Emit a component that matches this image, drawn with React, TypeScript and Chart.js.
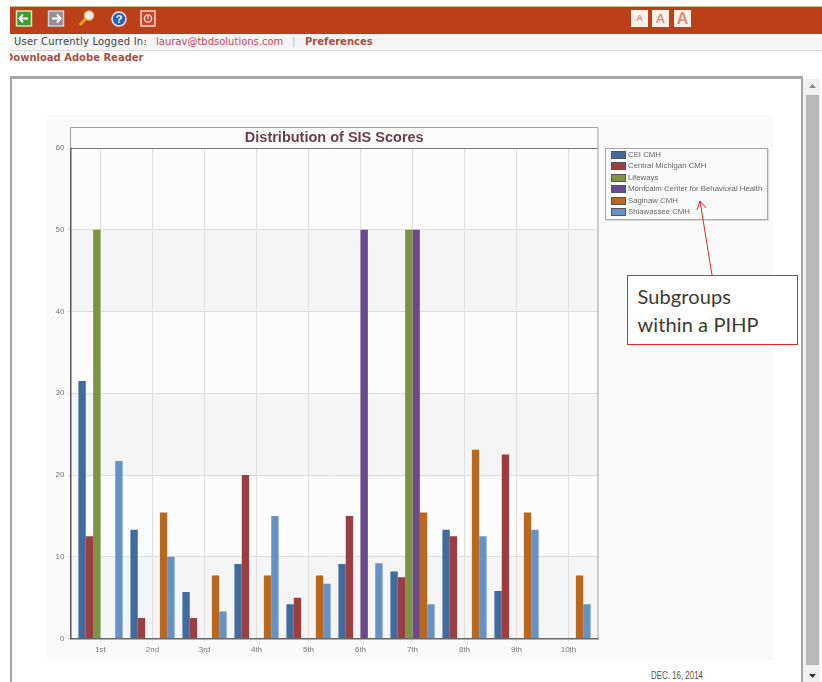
import React, { useEffect, useRef } from "react";
import { Chart, registerables } from "chart.js";

Chart.register(...registerables);

const chartTitle = "Distribution of SIS Scores";
const categories = ["1st", "2nd", "3rd", "4th", "5th", "6th", "7th", "8th", "9th", "10th"];
const seriesNames = ["CEI CMH", "Central Michigan CMH", "Lifeways", "Montcalm Center for Behavioral Health", "Saginaw CMH", "Shiawassee CMH"];
const seriesColors = ["#3f6b9e", "#9c3d3f", "#7d9345", "#6a4a8c", "#b9691f", "#6593c6"];
const cei = [31.5, 13.3, 5.7, 9.1, 4.2, 9.1, 8.2, 13.3, 5.8, 0];
const centralMichigan = [12.5, 2.5, 2.5, 20, 5, 15, 7.5, 12.5, 22.5, 0];
const lifeways = [50, 0, 0, 0, 0, 0, 50, 0, 0, 0];
const montcalm = [0, 0, 0, 0, 0, 50, 50, 0, 0, 0];
const saginaw = [0, 15.4, 7.7, 7.7, 7.7, 0, 15.4, 23.1, 15.4, 7.7];
const shiawassee = [21.7, 10, 3.3, 15, 6.7, 9.2, 4.2, 12.5, 13.3, 4.2];
const seriesValues = [cei, centralMichigan, lifeways, montcalm, saginaw, shiawassee];
const bandEdges = [0, 10, 20, 30, 40, 50, 60];

// The source chart leaves a fixed margin before the first and after the last category.
const categoryStep = 52;
const categoryEdge = 30;

const categoryInsetPlugin = {
  id: "categoryInset",
  afterLayout(chart: any) {
    const x = chart.scales.x;
    x._startValue = -categoryEdge / categoryStep;
    x._valueRange = (x.right - x.left) / categoryStep;
  },
};

const framePlugin = {
  id: "frame",
  beforeDraw(chart: any) {
    const { ctx, chartArea: a, scales } = chart;
    const y = scales.y;
    ctx.save();
    ctx.fillStyle = "#fcfcfc";
    ctx.fillRect(a.left, 12, a.right - a.left, a.bottom - 12);
    ctx.fillStyle = "#f5f5f5";
    for (let i = 0; i < bandEdges.length - 1; i += 2) {
      const top = y.getPixelForValue(bandEdges[i + 1]);
      const bottom = y.getPixelForValue(bandEdges[i]);
      ctx.fillRect(a.left, top, a.right - a.left, bottom - top);
    }
    ctx.restore();
  },
  afterDraw(chart: any) {
    const { ctx, chartArea: a } = chart;
    ctx.save();
    ctx.strokeStyle = "#a0a0a0";
    ctx.lineWidth = 1;
    ctx.beginPath();
    ctx.moveTo(a.left, Math.round(a.top) + 0.5);
    ctx.lineTo(a.left, 12.5);
    ctx.lineTo(a.right, 12.5);
    ctx.lineTo(a.right, a.bottom);
    ctx.stroke();
    ctx.strokeStyle = "#777";
    ctx.beginPath();
    ctx.moveTo(a.left, a.top + 0.5);
    ctx.lineTo(a.right, a.top + 0.5);
    ctx.stroke();
    ctx.restore();
  },
};

const abs = (left: number, top: number, width: number, height: number, extra: any = {}) => ({
  position: "absolute" as const,
  left,
  top,
  width,
  height,
  ...extra,
});

const Icons = () => (
  <svg style={abs(0, 0, 822, 40)} viewBox="0 0 822 40">
    <rect x="16.5" y="11" width="15" height="15" fill="#3d9a35" stroke="#d8e8b0" strokeWidth="1.5" />
    <path d="M28 18.5H20M23 14.5L19.5 18.5L23 22.5" stroke="#fff" strokeWidth="2" fill="none" />
    <rect x="48.5" y="11" width="15" height="15" fill="#8f9296" stroke="#d0d0d0" strokeWidth="1.5" />
    <path d="M52 18.5H60M57 14.5L60.5 18.5L57 22.5" stroke="#fff" strokeWidth="2" fill="none" />
    <circle cx="89" cy="15.5" r="4.5" fill="#e8eef2" stroke="#e8c070" strokeWidth="1.5" />
    <path d="M85.5 19L80 25" stroke="#f0a020" strokeWidth="3" />
    <circle cx="119" cy="19" r="7" fill="#2a62b8" stroke="#e8e8f0" strokeWidth="1.5" />
    <text x="119" y="23" fontSize="11" fontWeight="bold" fill="#fff" textAnchor="middle" fontFamily="Liberation Sans">?</text>
    <rect x="141" y="11" width="14" height="15" fill="#c8432a" stroke="#f2d8c8" strokeWidth="1.5" />
    <circle cx="148" cy="18.5" r="3.6" fill="none" stroke="#f6e0d0" strokeWidth="1.4" />
    <path d="M148 15V19" stroke="#f6e0d0" strokeWidth="1.4" />
  </svg>
);

const SizeButton = ({ left, size }: { left: number; size: number }) => (
  <div style={abs(left, 10, 17, 17, { background: "#fbf3e8", color: "#dc8f80", fontFamily: "Liberation Sans", fontWeight: "bold", fontSize: size, lineHeight: "17px", textAlign: "center" })}>A</div>
);

export default function App() {
  const canvasRef = useRef<HTMLCanvasElement | null>(null);

  useEffect(() => {
    const chart = new Chart(canvasRef.current as HTMLCanvasElement, {
      type: "bar",
      data: {
        labels: categories,
        datasets: seriesNames.map((name, i) => ({
          label: name,
          data: seriesValues[i],
          backgroundColor: seriesColors[i],
          borderWidth: 0,
          categoryPercentage: 0.85,
          barPercentage: 1,
        })),
      },
      options: {
        responsive: false,
        animation: false,
        events: [],
        layout: { padding: { left: 0, top: 12, right: 175, bottom: 0 } },
        plugins: {
          legend: { display: false },
          tooltip: { enabled: false },
          title: {
            display: true,
            text: chartTitle,
            fullSize: false,
            color: "#6b3f47",
            font: { family: "Liberation Sans", size: 14.5, weight: "bold", lineHeight: 1.2 },
            padding: { top: 2, bottom: 1.6 },
          },
        },
        scales: {
          x: {
            grid: { offset: false, color: "#dedede", lineWidth: 1, drawTicks: true, tickLength: 3 },
            border: { color: "#666", width: 1.5 },
            ticks: { color: "#777", font: { family: "Liberation Sans", size: 8 }, padding: 3, maxRotation: 0 },
            afterFit: (s: any) => { s.height = 21.5; },
          },
          y: {
            min: 0,
            max: 60,
            grid: { color: "#dedede", lineWidth: 1, tickLength: 3 },
            border: { color: "#555", width: 1.5 },
            ticks: { stepSize: 10, color: "#777", font: { family: "Liberation Sans", size: 8 }, padding: 3 },
            afterFit: (s: any) => { s.width = 24.5; },
          },
        },
      },
      plugins: [categoryInsetPlugin, framePlugin],
    } as any);
    return () => chart.destroy();
  }, []);

  return (
    <div style={abs(0, 0, 822, 682, { overflow: "hidden", background: "#fff", fontFamily: "DejaVu Sans", filter: "blur(0.35px)" })}>
      {/* application header */}
      <div style={abs(10, 6, 812, 1, { background: "#b9c08a" })} />
      <div style={abs(10, 7, 812, 27, { background: "#bb3f18" })} />
      <div style={abs(10, 34, 812, 16, { background: "#f5f5f5", borderBottom: "1px solid #dcdcdc" })} />
      <Icons />
      <SizeButton left={631} size={9} />
      <SizeButton left={652} size={13} />
      <SizeButton left={674} size={16} />
      <div style={abs(14, 36, 140, 12, { fontSize: 10, lineHeight: "12px", letterSpacing: 0.2, color: "#444", whiteSpace: "nowrap" })}>User Currently Logged In:</div>
      <div style={abs(156, 36, 130, 12, { fontSize: 10, lineHeight: "12px", color: "#c8465a", whiteSpace: "nowrap" })}>laurav@tbdsolutions.com</div>
      <div style={abs(292, 36, 6, 12, { fontSize: 10, lineHeight: "12px", color: "#bbb" })}>|</div>
      <div style={abs(305, 36, 80, 12, { fontSize: 10, lineHeight: "12px", fontWeight: "bold", color: "#a9503f", whiteSpace: "nowrap" })}>Preferences</div>
      <div style={abs(10, 51, 200, 13, { overflow: "hidden" })}>
        <div style={{ position: "absolute", left: -5, top: 0, fontSize: 10, lineHeight: "13px", fontWeight: "bold", color: "#a9503f", whiteSpace: "nowrap" }}>Download Adobe Reader</div>
      </div>

      {/* document panel */}
      <div style={abs(10, 76, 793, 3, { background: "#a6a6a6" })} />
      <div style={abs(10, 76, 2, 606, { background: "#a6a6a6" })} />
      <div style={abs(801, 76, 2, 606, { background: "#a6a6a6" })} />
      <div style={abs(803, 79, 17, 603, { background: "#f0f0f0" })} />
      <div style={abs(806, 95, 13, 570, { background: "#b9b9b9" })} />
      <svg style={abs(803, 79, 17, 603)} viewBox="0 0 17 603">
        <path d="M6 9L9.5 5L13 9Z" fill="#888" />
        <path d="M6 595L9.5 599L13 595Z" fill="#333" />
      </svg>

      {/* chart card */}
      <div style={abs(46, 115, 727, 545, { background: "#fafafa" })} />
      <canvas ref={canvasRef} width={727} height={545} style={abs(46, 115, 727, 545)} />

      {/* legend */}
      <div style={abs(605, 148, 161, 70, { border: "1px solid #a8a8a8", boxShadow: "1px 1px 1px #ddd", background: "#fafafa" })}>
        {seriesNames.map((name, i) => (
          <div key={name} style={abs(5, 0 + i * 11.4, 155, 11, { fontFamily: "Liberation Sans", fontSize: 7.8, lineHeight: "11px", color: "#666", whiteSpace: "nowrap" })}>
            <span style={abs(0, 2, 13, 6, { background: seriesColors[i], border: "1px solid #555" })} />
            <span style={{ position: "absolute", left: 17, top: 0 }}>{name}</span>
          </div>
        ))}
      </div>

      {/* callout */}
      <div style={abs(627, 275, 169, 68, { background: "#fff", border: "1px solid #e8262a", fontFamily: "Lato", fontSize: 20, lineHeight: "28px", color: "#3a3a32", letterSpacing: 0.1 })}>
        <div style={{ position: "absolute", left: 9.5, top: 6, whiteSpace: "nowrap" }}>Subgroups<br />within a PIHP</div>
      </div>
      <svg style={abs(680, 190, 50, 90)} viewBox="0 0 50 90">
        <path d="M32 85L20 11" stroke="#e8262a" strokeWidth="1" fill="none" />
        <path d="M17 20L20 11L26 18" stroke="#e8262a" strokeWidth="1" fill="none" />
      </svg>

      <div style={{ ...abs(651, 668, 80, 14, { fontFamily: "Liberation Sans", fontSize: 11, lineHeight: "14px", color: "#55504a", whiteSpace: "nowrap" }), transform: "scaleX(0.72)", transformOrigin: "left center" }}>DEC. 16, 2014</div>
    </div>
  );
}
